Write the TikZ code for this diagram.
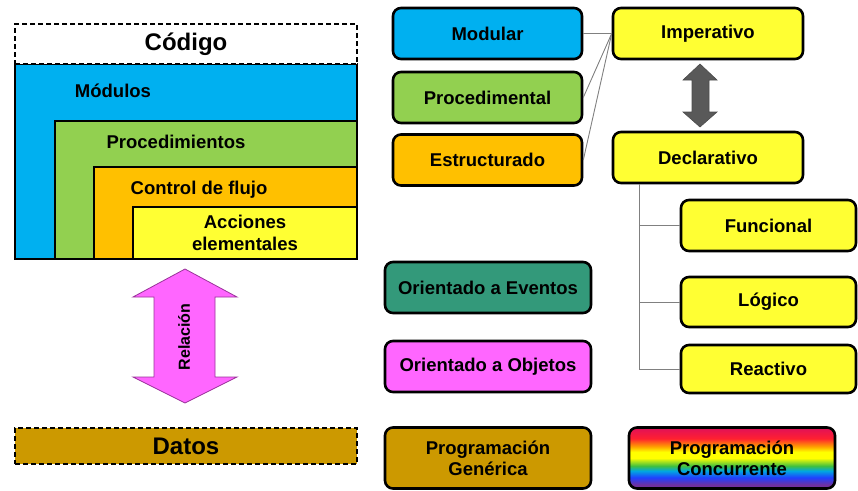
\documentclass[tikz,border=0pt]{standalone}
\usepackage{fontspec}
\setmainfont{Liberation Sans}
\usetikzlibrary{calc}
\definecolor{blueM}{HTML}{00B0F0}
\definecolor{greenM}{HTML}{92D050}
\definecolor{orangeM}{HTML}{FFC000}
\definecolor{yellowM}{HTML}{FFFF33}
\definecolor{goldM}{HTML}{CC9900}
\definecolor{tealM}{HTML}{33997A}
\definecolor{pinkM}{HTML}{FF66FF}
\definecolor{pinkD}{HTML}{993399}
\definecolor{grayA}{HTML}{595959}
\definecolor{rbpurple}{HTML}{7030A0}
\definecolor{rbblue}{HTML}{2040FF}
\definecolor{rbcyan}{HTML}{00A8E0}
\definecolor{rbgreen}{HTML}{40C040}
\definecolor{rbyellow}{HTML}{FFFF00}
\definecolor{rborange}{HTML}{FFA000}
\definecolor{rbred}{HTML}{FF2030}
\definecolor{rbcrimson}{HTML}{E0105A}
\pgfdeclareverticalshading{rainbowshade}{100bp}{color(0bp)=(rbpurple); color(28bp)=(rbpurple); color(34bp)=(rbblue); color(39.5bp)=(rbcyan); color(43.5bp)=(rbgreen); color(50bp)=(rbyellow); color(55bp)=(rbyellow); color(59.5bp)=(rborange); color(66bp)=(rbred); color(75bp)=(rbcrimson); color(100bp)=(rbcrimson)}
\tikzset{
  lbl/.style={font=\fontsize{18.5}{23}\selectfont\bfseries, align=center},
  nest/.style={draw=black, line width=2.6pt, inner sep=0pt},
  rbox/.style={draw=black, line width=2.6pt, rounded corners=8pt, minimum width=189pt, minimum height=51pt, inner sep=0pt, lbl},
  dbox/.style={draw=black, line width=2.2pt, dash pattern=on 5pt off 3pt, inner sep=0pt, font=\fontsize{24}{28}\selectfont\bfseries},
  conn/.style={draw=gray, line width=0.9pt},
}
\begin{document}
\begin{tikzpicture}[x=1pt,y=-1pt]
\useasboundingbox (0,0) rectangle (858,490);
% nested code boxes
\node[nest, fill=blueM, minimum width=342pt, minimum height=195pt] (mod) at (186,161.5) {};
\node[nest, fill=greenM, minimum width=302pt, minimum height=138pt] (proc) at (206,190) {};
\node[nest, fill=orangeM, minimum width=263pt, minimum height=92pt] (ctrl) at (225.5,213) {};
\node[nest, fill=yellowM, minimum width=224pt, minimum height=52pt, lbl] (acc) at (245,233) {Acciones\\[-1pt]elementales};
\node[lbl] (modL) at (113,91) {Módulos};
\node[lbl] (procL) at (176,142) {Procedimientos};
\node[lbl] (ctrlL) at (199,190) {Control de flujo};
\node[dbox, fill=white, minimum width=342pt, minimum height=40pt] (cod) at (186,44) {Código};
% Relacion arrow
\draw[fill=pinkM, draw=pinkD, line width=0.8pt] (185,269) -- (237,297) -- (215,297) -- (215,377) -- (237,377) -- (185,403) -- (133,377) -- (154,377) -- (154,297) -- (133,297) -- cycle;
\node[rotate=90, font=\fontsize{16}{18}\selectfont\bfseries] (rel) at (184,337) {Relación};
% Datos
\node[dbox, fill=goldM, minimum width=342pt, minimum height=36pt] (dat) at (186,446) {Datos};
% right boxes
\node[rbox, fill=blueM] (modular) at (487.5,33.5) {Modular};
\node[rbox, fill=greenM] (procm) at (487.5,97.5) {Procedimental};
\node[rbox, fill=orangeM] (estr) at (487.5,160) {Estructurado};
\node[rbox, fill=yellowM, minimum width=190pt] (imp) at (708,33.5) {Imperativo};
\node[rbox, fill=yellowM, minimum width=190pt] (decl) at (708,157.5) {Declarativo};
\node[rbox, fill=yellowM, minimum width=175pt] (func) at (768.5,225.5) {Funcional};
\node[rbox, fill=yellowM, minimum width=175pt, minimum height=50pt] (logi) at (768.5,302) {Lógico};
\node[rbox, fill=yellowM, minimum width=175pt, minimum height=48pt] (reac) at (768.5,369) {Reactivo};
\node[rbox, fill=tealM, minimum width=206pt] (even) at (488,287.5) {Orientado a Eventos};
\node[rbox, fill=pinkM, minimum width=206pt] (obj) at (488,366.5) {Orientado a Objetos};
\node[rbox, fill=goldM, minimum width=206pt, minimum height=61pt] (gen) at (488,458) {Programación\\[-2pt]Genérica};
\node[rbox, shading=rainbowshade, minimum width=206pt, minimum height=61pt] (conc) at (732,458) {Programación\\[-2pt]Concurrente};
% connectors
\draw[conn] (modular.east) -- (imp.west);
\draw[conn] (procm.east) -- (imp.west);
\draw[conn] (estr.east) -- (imp.west);
\coordinate (dtop) at ($(decl.south west)+(28,0)$);
\draw[conn] (dtop) |- (func.west);
\draw[conn] (dtop) |- (logi.west);
\draw[conn] (dtop) |- (reac.west);
% gray double arrow
\draw[fill=grayA, draw=black!70, line width=0.6pt] (700,64) -- (717,80) -- (709,80) -- (709,112) -- (717,112) -- (700,127) -- (683,112) -- (692,112) -- (692,80) -- (683,80) -- cycle;
\end{tikzpicture}
\end{document}
